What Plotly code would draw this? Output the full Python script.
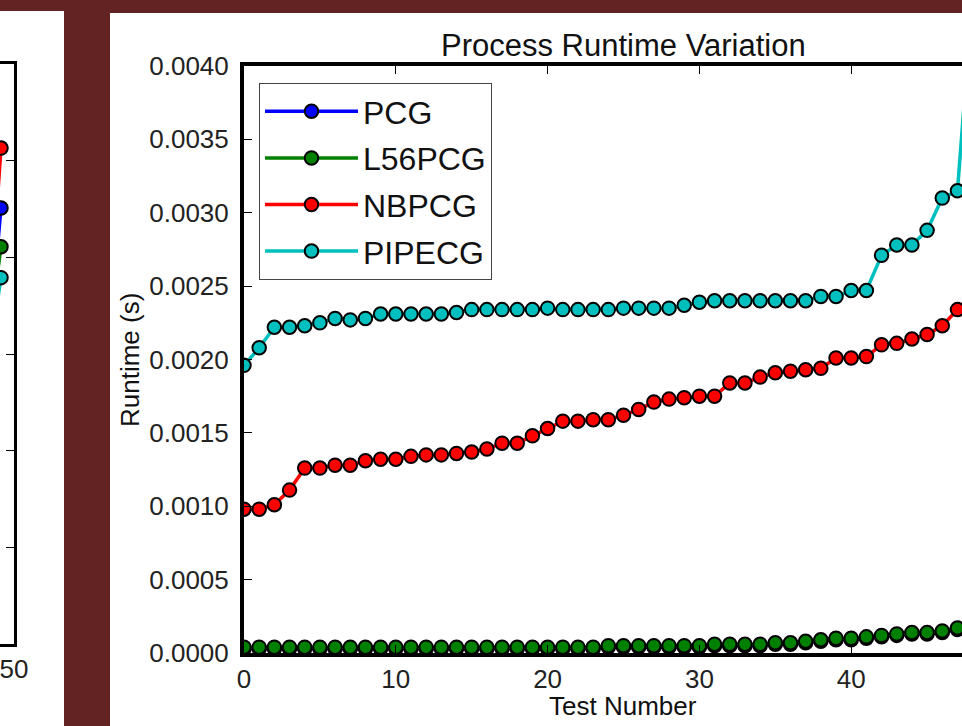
import plotly.graph_objects as go

# ---------------- data ----------------
test_number = list(range(50))

pcg = [0.00003] * 20 + [0.00003, 0.00003, 0.00003, 0.00003, 0.00004, 0.00004, 0.00004, 0.00004, 0.00004, 0.00004,
                         0.00004, 0.00005, 0.00005, 0.00005, 0.00005, 0.00006, 0.00006, 0.00007, 0.00008, 0.00009,
                         0.00009, 0.00010, 0.00011, 0.00012, 0.00013, 0.00013, 0.00014, 0.00016, 0.00018, 0.00020]
l56pcg = [0.00004] * 20 + [0.00004, 0.00004, 0.00004, 0.00004, 0.00005, 0.00005, 0.00005, 0.00005, 0.00005, 0.00005,
                           0.00005, 0.00006, 0.00006, 0.00006, 0.00006, 0.00007, 0.00007, 0.00008, 0.00009, 0.00010,
                           0.00010, 0.00011, 0.00012, 0.00013, 0.00014, 0.00014, 0.00015, 0.00017, 0.00019, 0.00021]
nbpcg = [0.00098, 0.00098, 0.00101, 0.00111, 0.00126, 0.00126, 0.00128, 0.00128, 0.00131, 0.00132,
         0.00132, 0.00134, 0.00135, 0.00135, 0.00136, 0.00137, 0.00139, 0.00143, 0.00143, 0.00148,
         0.00153, 0.00158, 0.00158, 0.00159, 0.00159, 0.00162, 0.00166, 0.00171, 0.00173, 0.00174,
         0.00175, 0.00175, 0.00184, 0.00184, 0.00188, 0.00191, 0.00192, 0.00193, 0.00194, 0.00201,
         0.00201, 0.00202, 0.00210, 0.00211, 0.00214, 0.00217, 0.00223, 0.00234, 0.00245, 0.00260]
pipecg = [0.00196, 0.00208, 0.00222, 0.00222, 0.00223, 0.00225, 0.00228, 0.00227, 0.00228, 0.00231,
          0.00231, 0.00231, 0.00231, 0.00231, 0.00232, 0.00234, 0.00234, 0.00234, 0.00234, 0.00234,
          0.00235, 0.00234, 0.00234, 0.00234, 0.00234, 0.00235, 0.00235, 0.00235, 0.00235, 0.00237,
          0.00239, 0.00240, 0.00240, 0.00240, 0.00240, 0.00240, 0.00240, 0.00240, 0.00243, 0.00243,
          0.00247, 0.00247, 0.00271, 0.00278, 0.00278, 0.00288, 0.00310, 0.00315, 0.00450, 0.00480]

# partially visible neighbouring chart (only its last two tests are in view)
left_test_number = [48, 49]
left_pcg = [0.0030, 0.00451]
left_l56pcg = [0.0031, 0.00411]
left_nbpcg = [0.0032, 0.00513]
left_pipecg = [0.0029, 0.00379]

series_names = ["PCG", "L56PCG", "NBPCG", "PIPECG"]
series_colors = ["#0000ff", "#008000", "#ff0000", "#00bfbf"]
y_tick_vals = [0.0, 0.0005, 0.0010, 0.0015, 0.0020, 0.0025, 0.0030, 0.0035, 0.0040]
x_tick_vals = [0, 10, 20, 30, 40, 50]

# ---------------- layout geometry (pixels) ----------------
W, H = 962, 726
FONT = "Liberation Sans, Arial, sans-serif"
MAROON = "#642323"


def px_x(p):
    return p / W


def px_y(p):
    return (H - p) / H


fig = go.Figure()

main_series = [pcg, l56pcg, nbpcg, pipecg]
for name, color, ys in zip(series_names, series_colors, main_series):
    fig.add_trace(go.Scatter(
        x=test_number, y=ys, name=name, mode="lines+markers",
        line=dict(color=color, width=3.5),
        marker=dict(color=color, size=13.5, line=dict(color="black", width=2)),
        legendgroup=name,
        xaxis="x", yaxis="y",
    ))

left_series = [left_pcg, left_l56pcg, left_nbpcg, left_pipecg]
for name, color, ys in zip(series_names, series_colors, left_series):
    fig.add_trace(go.Scatter(
        x=left_test_number, y=ys, name=name, mode="lines+markers",
        line=dict(color=color, width=3.5),
        marker=dict(color=color, size=13.5, line=dict(color="black", width=2)),
        showlegend=False, xaxis="x2", yaxis="y2",
    ))

axis_common = dict(
    showgrid=False, zeroline=False, showline=True, linecolor="black",
    ticks="inside", ticklen=8, tickwidth=1, tickcolor="black", automargin=False,
    tickfont=dict(family=FONT, size=26, color="#222"),
)

fig.update_layout(
    width=W, height=H,
    margin=dict(l=0, r=0, t=0, b=0, pad=0, autoexpand=False),
    paper_bgcolor=MAROON,
    plot_bgcolor="white",
    showlegend=True,
    legend=dict(
        x=px_x(259), y=px_y(83), xanchor="left", yanchor="top",
        bgcolor="white", bordercolor="#444", borderwidth=1,
        font=dict(family=FONT, size=32, color="#111"),
        itemwidth=93, traceorder="grouped", tracegroupgap=2,
    ),
    xaxis=dict(
        domain=[px_x(244), 1.0], range=[0, (W - 244) / 15.18],
        tickvals=x_tick_vals, ticktext=[str(v) for v in x_tick_vals],
        mirror="ticks", linewidth=4, anchor="y", **axis_common,
    ),
    yaxis=dict(
        domain=[px_y(653), px_y(66)], range=[0, 0.004],
        tickvals=y_tick_vals, tickformat=".4f",
        mirror=False, linewidth=4, anchor="x", ticklabelstandoff=6, **axis_common,
    ),
    xaxis2=dict(
        domain=[0.0, px_x(14)], range=[50 - 14 / 13.0, 50.0001],
        tickvals=[50], ticktext=["50"], ticklabeloverflow="allow",
        mirror="ticks", linewidth=3, anchor="y2", **axis_common,
    ),
    yaxis2=dict(
        domain=[px_y(644), px_y(64)], range=[0, 0.006], dtick=0.001,
        side="right", showticklabels=False,
        linewidth=3, anchor="x2", **axis_common,
    ),
    shapes=[
        dict(type="rect", xref="paper", yref="paper", layer="below",
             x0=0, x1=px_x(64), y0=0, y1=px_y(11),
             fillcolor="white", line=dict(width=0)),
        dict(type="rect", xref="paper", yref="paper", layer="below",
             x0=px_x(110), x1=1, y0=0, y1=px_y(13),
             fillcolor="white", line=dict(width=0)),
    ],
    annotations=[
        dict(text="Process Runtime Variation", xref="paper", yref="paper",
             x=px_x(623), y=px_y(46), xanchor="center", yanchor="middle",
             showarrow=False, font=dict(family=FONT, size=31, color="#111")),
        dict(text="Test Number", xref="paper", yref="paper",
             x=px_x(623), y=px_y(706), xanchor="center", yanchor="middle",
             showarrow=False, font=dict(family=FONT, size=26, color="#111")),
        dict(text="Runtime (s)", xref="paper", yref="paper", textangle=-90,
             x=px_x(130), y=px_y(360), xanchor="center", yanchor="middle",
             showarrow=False, font=dict(family=FONT, size=26, color="#111")),
    ],
)

fig.write_html("out.html")
